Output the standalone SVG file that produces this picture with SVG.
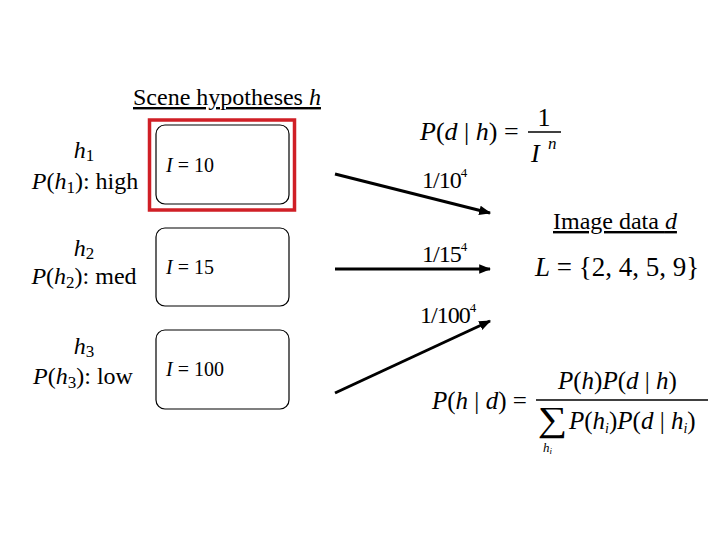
<svg xmlns="http://www.w3.org/2000/svg" width="720" height="540" viewBox="0 0 720 540">
<defs>
<style>
.i{font-style:italic}
.box{fill:#fff;stroke:#000;stroke-width:1.2}
.arr{stroke:#000;stroke-width:3;fill:none;marker-end:url(#ah)}
</style>
<marker id="ah" viewBox="0 0 10 10" refX="9" refY="5" markerWidth="4" markerHeight="4" orient="auto" markerUnits="strokeWidth">
<path d="M0,1 L10,5 L0,9 z" fill="#000"/>
</marker>
</defs>
<rect width="720" height="540" fill="#fff"/>

<g id="title">
<text font-family="Liberation Serif" x="133" y="105" font-size="24" text-decoration="underline">Scene hypotheses <tspan class="i">h</tspan></text>
</g>

<g id="label-h1" text-anchor="middle">
<text font-family="Liberation Serif" font-size="24" x="84" y="158"><tspan class="i">h</tspan><tspan font-size="17" dy="3">1</tspan></text>
<text font-family="Liberation Serif" font-size="24" x="85" y="189"><tspan class="i">P</tspan>(<tspan class="i">h</tspan><tspan font-size="17" dy="4">1</tspan><tspan dy="-4">): high</tspan></text>
</g>
<g id="label-h2" text-anchor="middle">
<text font-family="Liberation Serif" font-size="24" x="84" y="256"><tspan class="i">h</tspan><tspan font-size="17" dy="3">2</tspan></text>
<text font-family="Liberation Serif" font-size="24" x="84" y="284"><tspan class="i">P</tspan>(<tspan class="i">h</tspan><tspan font-size="17" dy="4">2</tspan><tspan dy="-4">): med</tspan></text>
</g>
<g id="label-h3" text-anchor="middle">
<text font-family="Liberation Serif" font-size="24" x="84" y="354"><tspan class="i">h</tspan><tspan font-size="17" dy="3">3</tspan></text>
<text font-family="Liberation Serif" font-size="24" x="83" y="384"><tspan class="i">P</tspan>(<tspan class="i">h</tspan><tspan font-size="17" dy="4">3</tspan><tspan dy="-4">): low</tspan></text>
</g>

<g id="node-h1">
<rect x="149.5" y="120" width="145" height="90" fill="none" stroke="#d01f26" stroke-width="3.5"/>
<rect class="box" x="156" y="125" width="133" height="79" rx="9"/>
<text font-family="Liberation Serif" x="166" y="172" font-size="20"><tspan class="i">I</tspan> = 10</text>
</g>
<g id="node-h2">
<rect class="box" x="156" y="228" width="133" height="78" rx="9"/>
<text font-family="Liberation Serif" x="166" y="274" font-size="20"><tspan class="i">I</tspan> = 15</text>
</g>
<g id="node-h3">
<rect class="box" x="156" y="330" width="133" height="79" rx="9"/>
<text font-family="Liberation Serif" x="166" y="376" font-size="20"><tspan class="i">I</tspan> = 100</text>
</g>

<g id="connectors">
<line class="arr" x1="335" y1="174" x2="490" y2="213"/>
<line class="arr" x1="335" y1="269" x2="490" y2="269"/>
<line class="arr" x1="335" y1="393" x2="490" y2="321"/>
<text font-family="Liberation Serif" x="422" y="188" font-size="24" letter-spacing="-1">1/10<tspan font-size="13" dy="-11" letter-spacing="0">4</tspan></text>
<text font-family="Liberation Serif" x="422" y="262" font-size="24" letter-spacing="-1">1/15<tspan font-size="13" dy="-11" letter-spacing="0">4</tspan></text>
<text font-family="Liberation Serif" x="420" y="323" font-size="24" letter-spacing="-1">1/100<tspan font-size="13" dy="-11" letter-spacing="0">4</tspan></text>
</g>

<g id="likelihood">
<text font-family="Liberation Serif" x="420" y="140" font-size="26"><tspan class="i">P</tspan>(<tspan class="i">d</tspan> | <tspan class="i">h</tspan>) =</text>
<text font-family="Liberation Serif" x="544" y="126" font-size="26" text-anchor="middle">1</text>
<line x1="528" y1="132" x2="561" y2="132" stroke="#000" stroke-width="1.5"/>
<text font-family="Liberation Serif" x="531" y="162" font-size="26" class="i">I</text>
<text font-family="Liberation Serif" x="548" y="149" font-size="17" class="i">n</text>
</g>

<g id="data">
<text font-family="Liberation Serif" x="553" y="229" font-size="24" text-decoration="underline">Image data <tspan class="i">d</tspan></text>
<text font-family="Liberation Serif" x="535" y="276" font-size="27"><tspan class="i">L</tspan> = {2, 4, 5, 9}</text>
</g>

<g id="posterior">
<text font-family="Liberation Serif" x="432" y="409" font-size="25"><tspan class="i">P</tspan>(<tspan class="i">h</tspan> | <tspan class="i">d</tspan>) =</text>
<text font-family="Liberation Serif" x="558" y="389" font-size="25"><tspan class="i">P</tspan>(<tspan class="i">h</tspan>)<tspan class="i">P</tspan>(<tspan class="i">d</tspan> | <tspan class="i">h</tspan>)</text>
<line x1="536" y1="400" x2="708" y2="400" stroke="#000" stroke-width="1.5"/>
<text font-family="Liberation Serif" transform="translate(538,431) scale(1.18,1)" x="0" y="0" font-size="35">∑</text>
<text font-family="Liberation Serif" x="569" y="429" font-size="25"><tspan class="i">P</tspan>(<tspan class="i">h</tspan><tspan font-size="14" dy="4" class="i">i</tspan><tspan dy="-4">)</tspan><tspan class="i">P</tspan>(<tspan class="i">d</tspan> | <tspan class="i">h</tspan><tspan font-size="14" dy="4" class="i">i</tspan><tspan dy="-4">)</tspan></text>
<text font-family="Liberation Serif" x="543" y="452" font-size="13" class="i">h<tspan font-size="9" dy="2">i</tspan></text>
</g>
</svg>
